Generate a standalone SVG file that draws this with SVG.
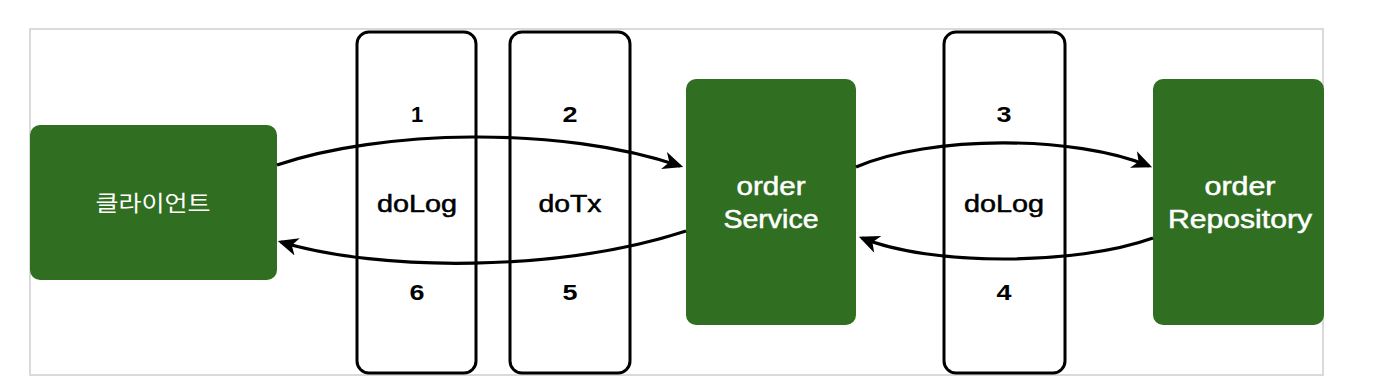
<svg xmlns="http://www.w3.org/2000/svg" width="1378" height="392" viewBox="0 0 1378 392">
<style>
.frame{fill:#fff;stroke:#dadada;stroke-width:2}
.node{fill:#306e21}
.box{fill:none;stroke:#000;stroke-width:3}
.lbl{font-family:"Liberation Sans",Arial,sans-serif;fill:#000;text-anchor:middle}
.num{font-weight:bold;font-size:22px}
.mid{font-size:23px;stroke:#000;stroke-width:0.5}
.wt{font-family:"Liberation Sans",Arial,sans-serif;fill:#fff;stroke:#fff;stroke-width:0.5;text-anchor:middle;font-size:25px}
.kr{font-family:"Liberation Sans","Noto Sans CJK KR",sans-serif;fill:#fff;text-anchor:middle;font-size:22px}
.conn{fill:none;stroke:#000;stroke-width:3.2}
</style>
<defs>
<marker id="arr" markerUnits="userSpaceOnUse" markerWidth="22" markerHeight="18" viewBox="0 0 19 16" refX="15" refY="8" orient="auto">
<path d="M0,0 L18,8 L0,16 L5,8 z" fill="#000"/>
</marker>
</defs>
<rect class="frame" x="30" y="29" width="1293" height="346"/>
<g id="client">
<rect class="node" x="30" y="125" width="247" height="155" rx="10"/>
<text class="kr" x="153" y="211" textLength="115" lengthAdjust="spacingAndGlyphs">클라이언트</text>
</g>
<g id="doLog1">
<rect class="box" x="357" y="32" width="119" height="341" rx="12"/>
<text class="lbl num" x="417" y="122">1</text>
<text class="lbl mid" x="417" y="212" textLength="80" lengthAdjust="spacingAndGlyphs">doLog</text>
<text class="lbl num" x="417" y="300" textLength="15" lengthAdjust="spacingAndGlyphs">6</text>
</g>
<g id="doTx">
<rect class="box" x="510" y="32" width="120" height="341" rx="12"/>
<text class="lbl num" x="570" y="122" textLength="15" lengthAdjust="spacingAndGlyphs">2</text>
<text class="lbl mid" x="570" y="212" textLength="63" lengthAdjust="spacingAndGlyphs">doTx</text>
<text class="lbl num" x="570" y="300" textLength="15" lengthAdjust="spacingAndGlyphs">5</text>
</g>
<g id="orderService">
<rect class="node" x="686" y="79" width="170" height="246" rx="10"/>
<text class="wt" x="771" y="195" textLength="69" lengthAdjust="spacingAndGlyphs">order</text>
<text class="wt" x="771" y="228" textLength="95" lengthAdjust="spacingAndGlyphs">Service</text>
</g>
<g id="doLog2">
<rect class="box" x="944" y="32" width="121" height="341" rx="12"/>
<text class="lbl num" x="1004" y="122" textLength="15" lengthAdjust="spacingAndGlyphs">3</text>
<text class="lbl mid" x="1004" y="212" textLength="80" lengthAdjust="spacingAndGlyphs">doLog</text>
<text class="lbl num" x="1004" y="300" textLength="15" lengthAdjust="spacingAndGlyphs">4</text>
</g>
<g id="orderRepository">
<rect class="node" x="1153" y="79" width="171" height="246" rx="10"/>
<text class="wt" x="1240" y="195" textLength="71" lengthAdjust="spacingAndGlyphs">order</text>
<text class="wt" x="1240" y="228" textLength="144" lengthAdjust="spacingAndGlyphs">Repository</text>
</g>
<g id="connectors">
<path class="conn" d="M277,165 C380,130 560,125 680,166" marker-end="url(#arr)"/>
<path class="conn" d="M686,231 C560,272 380,272 281,242" marker-end="url(#arr)"/>
<path class="conn" d="M856,167 C930,135 1075,135 1149,166" marker-end="url(#arr)"/>
<path class="conn" d="M1153,238 C1075,266 930,266 862,238" marker-end="url(#arr)"/>
</g>
</svg>
